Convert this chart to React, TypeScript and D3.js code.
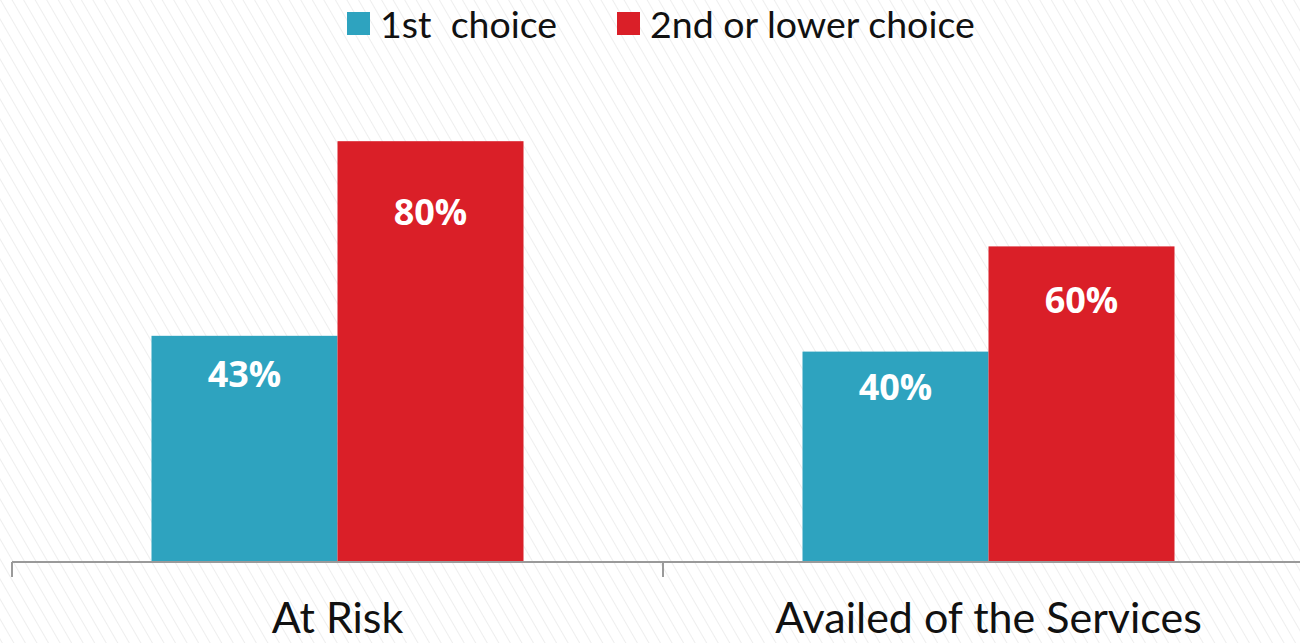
import * as d3 from 'd3';
import React from 'react';

const categories = ['At Risk', 'Availed of the Services'];
const seriesNames = ['1st  choice', '2nd or lower choice'];
const firstChoice = [43, 40];
const secondChoice = [80, 60];
const colors = ['#2ea3bf', '#da1f28'];

const width = 1300;
const height = 643;
const baseY = 562;

export default function App() {
	const x0 = d3.scaleBand<string>().domain(categories).range([12, 1314]).paddingInner(0).paddingOuter(0);
	const x1 = d3.scaleBand<string>().domain(seriesNames).range([0, 372]);
	const y = d3.scaleLinear().domain([0, 100]).range([baseY, 36]);
	const series = [firstChoice, secondChoice];
	const groupOffset = (x0.bandwidth() - 372) / 2;

	return (
		<svg
			width={width}
			height={height}
			style={{ position: 'absolute', left: 0, top: 0, display: 'block' }}
		>
			<defs>
				<pattern id="hatch" width="10" height="10" patternUnits="userSpaceOnUse" patternTransform="rotate(-30)">
					<line x1="0" y1="0" x2="0" y2="10" stroke="#e2e2e2" strokeWidth="1.2" />
				</pattern>
			</defs>
			<rect x={0} y={0} width={width} height={height} fill="#fff" />
			<rect x={0} y={0} width={width} height={height} fill="url(#hatch)" />

			{categories.map((c, ci) => (
				<g key={c} transform={`translate(${(x0(c) as number) + groupOffset},0)`}>
					{seriesNames.map((s, si) => {
						const v = series[si][ci];
						const bx = x1(s) as number;
						return (
							<g key={s}>
								<rect
									x={bx}
									y={y(v)}
									width={x1.bandwidth()}
									height={baseY - y(v)}
									fill={colors[si]}
								/>
								<text
									x={bx + x1.bandwidth() / 2}
									y={y(v * 0.83)}
									dy="0.35em"
									textAnchor="middle"
									fill="#fff"
									fontFamily="'Open Sans', sans-serif"
									fontWeight="bold"
									fontSize={36}
								>
									{v}%
								</text>
							</g>
						);
					})}
				</g>
			))}

			{/* axis */}
			<g stroke="#9a9a9a" strokeWidth={2}>
				<line x1={12} x2={width} y1={baseY} y2={baseY} />
				{[...categories.map(c => x0(c) as number), 1314].map((t, i) => (
					<line key={i} x1={t} x2={t} y1={baseY} y2={577} />
				))}
			</g>
			{categories.map(c => (
				<text
					key={c}
					x={(x0(c) as number) + x0.bandwidth() / 2}
					y={633}
					textAnchor="middle"
					fontFamily="Lato, sans-serif"
					fontSize={43}
					fill="#111"
				>
					{c}
				</text>
			))}

			{/* legend */}
			{seriesNames.map((s, i) => {
				const lx = [347, 617][i];
				return (
					<g key={s}>
						<rect x={lx} y={12} width={23} height={23} fill={colors[i]} />
						<text
							x={lx + 33}
							y={38}
							fontFamily="Lato, sans-serif"
							fontSize={37.5}
							fill="#111"
							style={{ whiteSpace: 'pre' }}
						>
							{s}
						</text>
					</g>
				);
			})}
		</svg>
	);
}
